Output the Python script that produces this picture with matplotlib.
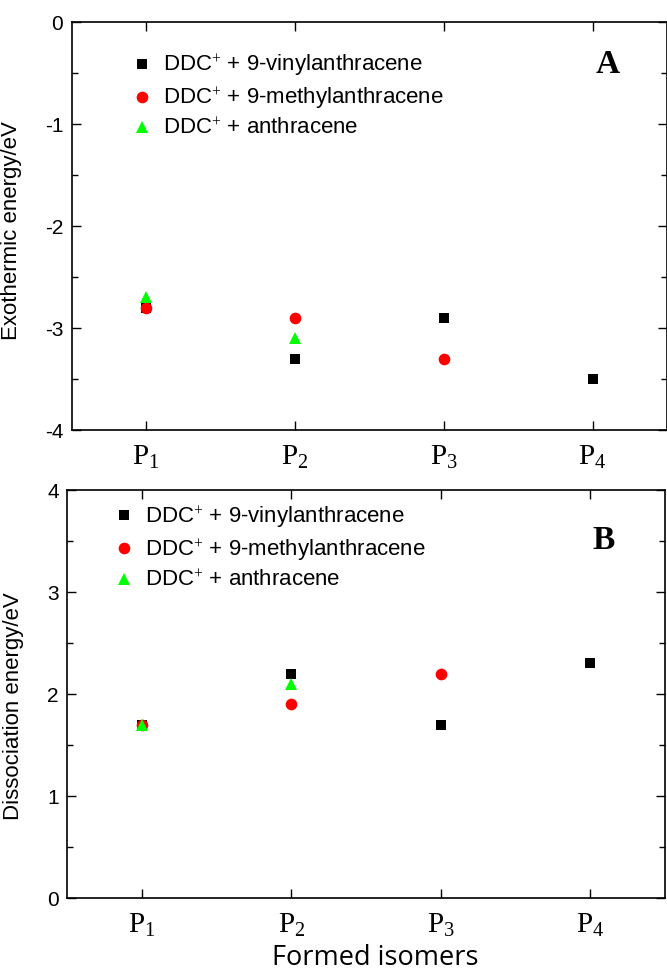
import numpy as np
import matplotlib.pyplot as plt
from matplotlib.ticker import MultipleLocator

plt.rcParams['font.family'] = ['Liberation Sans', 'DejaVu Sans']
plt.rcParams['mathtext.fontset'] = 'custom'
plt.rcParams['mathtext.rm'] = 'Liberation Serif'
plt.rcParams['mathtext.it'] = 'Liberation Serif:italic'
plt.rcParams['axes.unicode_minus'] = False

# isomer positions and labels
isomers = [1, 2, 3, 4]
isomer_labels = [r'$\mathrm{P}_1$', r'$\mathrm{P}_2$', r'$\mathrm{P}_3$', r'$\mathrm{P}_4$']

series_names = [r'DDC$^{+}$ + 9-vinylanthracene',
                r'DDC$^{+}$ + 9-methylanthracene',
                r'DDC$^{+}$ + anthracene']

# Panel A: exothermic energy (eV)
exo_vinyl = [-2.8, -3.3, -2.9, -3.5]
exo_methyl = [-2.8, -2.9, -3.3]
exo_anth = [-2.7, -3.1]

# Panel B: dissociation energy (eV)
dis_vinyl = [1.7, 2.2, 1.7, 2.3]
dis_methyl = [1.7, 1.9, 2.2]
dis_anth = [1.7, 2.1]

W, H = 667, 972
fig = plt.figure(figsize=(W / 100, H / 100), dpi=100)

# axes boxes from pixel positions (left, top, right, bottom)
axA = fig.add_axes([71.5 / W, 1 - 430 / H, (667 - 71.5) / W, 408 / H])
axB = fig.add_axes([67 / W, 1 - 898 / H, (665 - 67) / W, 408 / H])

styles = [dict(marker='s', color='black', ms=6.9),
          dict(marker='o', color='red', ms=8.4),
          dict(marker='^', color='#00ff00', ms=8.8)]


def draw(ax, data, ylim, ylabel, label_xy, tag, tag_xy, leg_xy):
    for vals, name, st in zip(data, series_names, styles):
        ax.plot(isomers[:len(vals)], vals, linestyle='none', marker=st['marker'],
                color=st['color'], markersize=st['ms'], markeredgewidth=0,
                label=name)
    ax.set_xlim(0.5, 4.5)
    ax.set_ylim(*ylim)
    ax.set_xticks(isomers)
    ax.yaxis.set_major_locator(MultipleLocator(1))
    ax.yaxis.set_minor_locator(MultipleLocator(0.5))
    ax.tick_params(which='both', direction='in', top=True, right=True,
                   width=1.0)
    ax.tick_params(which='major', length=6.5, labelsize=15, pad=6)
    ax.tick_params(which='minor', length=4)
    ax.set_xticklabels(isomer_labels, fontsize=21)
    ax.tick_params(axis='x', pad=9)
    for s in ax.spines.values():
        s.set_linewidth(1.2)
    ax.set_ylabel(ylabel, fontsize=16)
    ax.yaxis.set_label_coords(*label_xy)
    ax.legend(loc='upper left', bbox_to_anchor=leg_xy, frameon=False,
              fontsize=16, handletextpad=0.45, labelspacing=0.3,
              handlelength=1.0, borderaxespad=0)
    ax.text(tag_xy[0], tag_xy[1], tag, transform=ax.transAxes, fontsize=24,
            fontweight='bold', family='Liberation Serif', ha='center',
            va='center')


draw(axA, [exo_vinyl, exo_methyl, exo_anth], (-4, 0), 'Exothermic energy/eV',
     (-0.083, 0.49), 'A', (0.9, 0.895), (0.085, 0.946))
draw(axB, [dis_vinyl, dis_methyl, dis_anth], (0, 4), 'Dissociation energy/eV',
     (-0.072, 0.47), 'B', (0.898, 0.877), (0.062, 0.986))

fig.text(375 / W, 1 - 958 / H, 'Formed isomers', fontsize=19.5,
         family=['Open Sans', 'DejaVu Sans'], ha='center', va='center')

fig.savefig('out.png', dpi=100)
